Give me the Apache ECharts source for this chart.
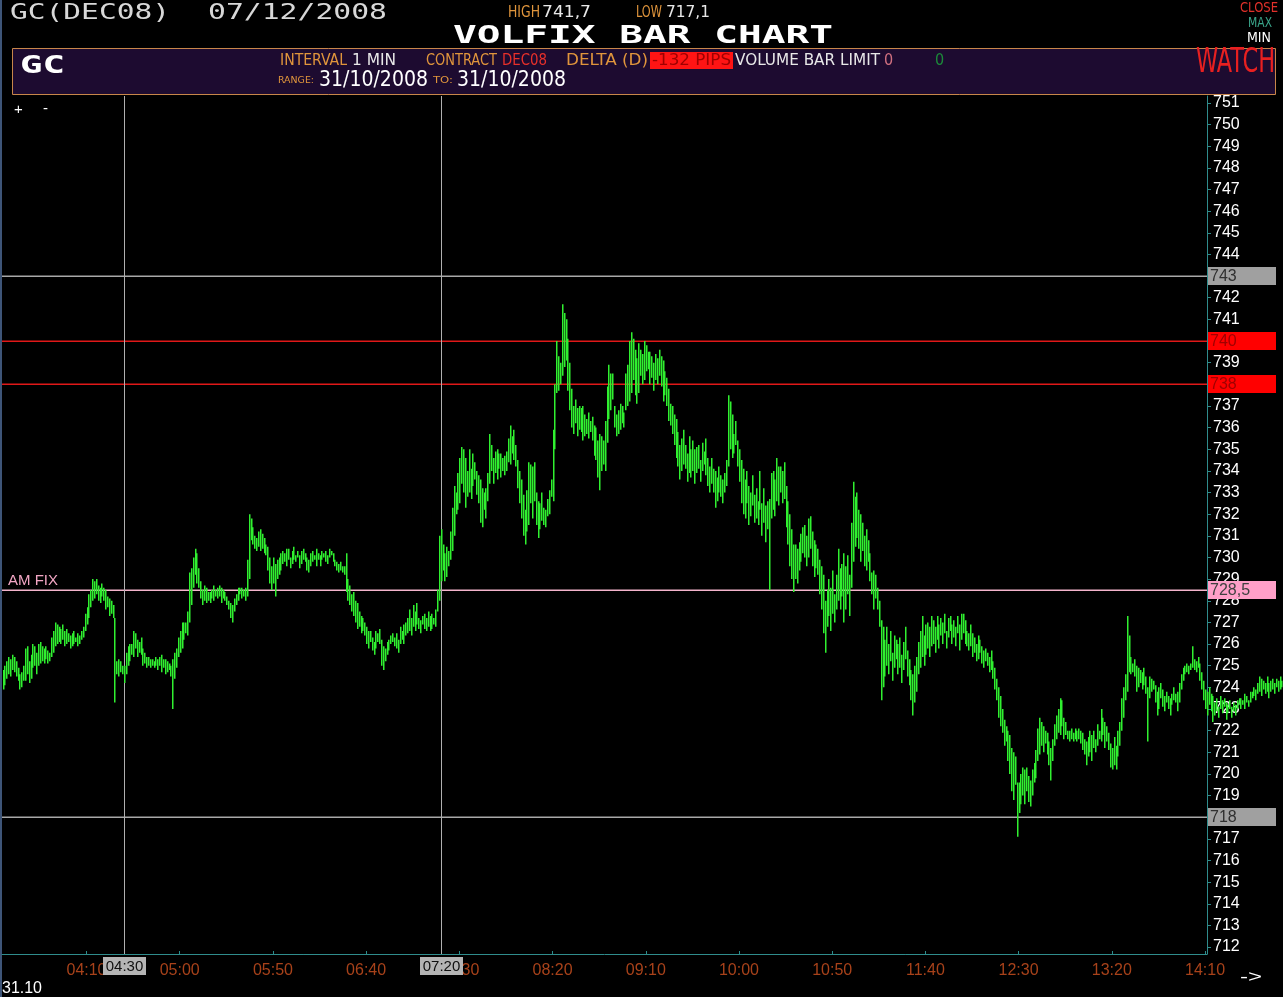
<!DOCTYPE html>
<html><head><meta charset="utf-8">
<script src="https://cdn.jsdelivr.net/npm/echarts@6/dist/echarts.min.js"></script>
<style>html,body{margin:0;padding:0;background:#000}#c{width:1283px;height:997px}</style>
</head><body><div id="c"></div>
<script>
// ---------------- DATA ----------------
const startTime = '03:25'; // first 1-minute bar
const lows = [
723.9,724.1,724.4,724.6,724.5,724.8,724.7,724.5,724.3,723.9,
724.0,724.3,724.3,724.6,724.2,724.4,724.9,725.0,724.6,725.0,
725.1,725.2,725.1,725.3,725.1,725.2,725.4,725.6,725.9,726.0,
726.1,726.0,726.2,725.9,726.0,726.1,725.8,725.9,726.0,726.1,
725.9,726.0,726.2,726.3,726.6,726.9,727.2,727.7,728.0,728.1,
728.3,728.0,727.9,728.2,728.0,727.6,727.7,727.3,727.4,727.2,
723.3,724.6,724.5,724.7,724.6,724.2,724.6,725.0,725.2,725.5,
725.4,725.8,725.4,725.6,725.5,725.0,725.1,724.9,725.0,724.9,
725.0,724.9,725.0,724.8,725.0,724.7,724.9,724.6,724.7,724.8,
724.5,723.0,724.4,724.9,725.4,725.6,725.8,726.2,726.5,726.4,
727.0,727.8,728.6,729.2,728.8,728.6,728.1,727.8,728.0,727.9,
728.0,727.9,728.1,728.0,728.2,728.1,728.2,727.9,728.1,728.0,
727.8,727.6,727.2,727.0,727.5,727.8,728.0,728.3,728.1,728.2,
728.0,728.2,729.0,730.8,730.6,730.4,730.3,730.5,730.3,730.4,
730.2,730.1,729.4,728.8,728.5,728.8,728.2,729.0,729.2,729.4,
729.7,729.8,729.6,729.9,729.5,729.7,729.9,729.8,730.0,729.5,
729.7,729.9,729.8,729.4,729.3,729.6,729.8,729.9,729.6,729.9,
729.6,729.9,730.0,729.8,729.7,730.0,730.1,729.8,729.6,729.4,
729.3,729.4,729.3,729.2,728.4,728.0,727.8,727.5,727.3,727.0,
726.7,726.8,726.5,726.6,726.4,726.0,725.8,726.1,725.7,725.5,
725.8,726.1,726.0,725.0,724.8,725.2,725.5,725.7,726.0,726.1,
725.9,725.8,725.6,726.0,726.2,726.0,726.4,726.5,726.6,726.4,
726.8,726.6,726.9,726.7,726.5,726.9,726.7,726.6,726.8,726.6,
726.7,726.9,726.8,727.5,728.0,728.9,729.4,728.9,729.1,729.6,
729.9,730.3,731.0,732.0,732.2,732.5,733.4,733.0,732.3,732.8,
733.0,732.7,733.3,733.6,732.9,732.5,731.6,731.4,732.2,731.8,
732.6,733.4,734.0,733.4,733.9,733.6,734.1,733.7,734.0,733.8,
734.0,734.4,734.3,734.8,734.5,734.2,733.2,732.5,731.8,731.0,
730.6,731.2,731.5,732.5,731.8,732.6,731.5,730.9,731.3,731.7,
731.5,731.4,731.9,732.0,732.8,732.6,735.0,737.6,737.7,738.0,
738.4,738.8,739.1,737.7,736.8,736.0,735.7,736.2,735.6,735.9,
735.8,735.4,735.6,735.7,735.5,735.8,735.4,734.7,734.5,733.7,
733.1,734.0,734.3,734.0,735.3,736.4,736.8,737.3,736.0,735.6,
735.7,735.9,736.2,736.0,736.8,737.0,737.2,737.6,738.2,737.5,
737.1,737.6,738.4,738.0,738.2,738.6,738.7,738.0,738.3,737.7,
738.2,738.0,738.4,737.9,737.2,737.5,737.0,736.3,736.1,735.7,
735.2,734.6,734.2,733.6,734.0,734.3,734.1,733.5,733.9,733.7,
734.0,733.4,733.9,734.1,733.5,734.0,734.3,733.8,733.3,733.0,
733.4,733.0,732.3,732.6,733.0,732.8,732.5,733.0,733.3,734.2,
735.0,734.6,734.8,735.2,734.2,733.5,732.5,732.0,731.8,732.5,
731.5,731.9,732.4,731.6,731.8,731.5,732.2,731.0,731.6,730.7,
731.3,728.5,731.8,732.2,731.9,732.6,732.4,733.0,732.5,732.7,
731.4,730.6,729.6,729.0,728.4,729.0,728.8,729.4,729.8,730.2,
730.0,729.6,730.0,730.4,729.6,729.1,729.5,729.2,728.3,727.6,
726.5,725.6,726.8,727.3,726.6,727.4,727.0,727.6,728.0,727.6,
728.2,727.0,727.6,728.3,727.3,728.6,729.8,730.5,730.9,730.4,
729.8,730.3,729.6,729.4,729.8,728.9,728.3,727.6,728.1,727.6,
726.8,723.4,724.0,724.5,725.0,724.6,725.2,724.3,724.9,725.3,
724.6,724.9,724.2,724.8,725.3,724.5,724.1,723.4,722.7,723.3,
723.8,724.6,724.9,725.4,725.0,725.5,725.8,725.4,725.9,726.0,
725.6,726.2,725.8,726.4,726.0,726.5,725.8,726.3,726.6,726.0,
726.3,725.9,726.5,725.7,726.2,726.5,726.0,725.9,725.7,725.9,
725.4,725.6,725.2,725.3,725.6,725.1,724.9,725.2,725.0,724.7,
724.8,724.4,723.9,723.4,722.6,722.2,721.9,721.3,721.5,720.6,
720.0,719.2,718.8,719.5,717.1,718.2,718.6,719.0,718.6,719.2,
718.7,718.5,719.0,719.6,719.8,720.6,720.9,721.3,721.0,721.4,
720.9,720.4,719.7,720.6,721.3,721.6,721.9,721.8,722.2,721.6,
721.8,721.6,721.5,721.6,721.5,721.6,721.5,721.6,721.4,721.1,
720.9,720.4,720.8,721.0,720.6,721.2,721.0,721.3,721.6,721.5,
721.8,721.2,721.5,721.1,720.3,720.2,720.4,720.2,720.8,721.3,
722.0,722.6,723.4,723.8,724.7,724.6,724.7,724.5,723.8,724.0,
724.2,723.9,724.1,723.7,721.5,723.5,723.8,723.9,723.3,722.7,
723.0,723.5,723.1,722.9,723.3,723.0,722.7,723.2,723.4,723.3,
722.9,723.3,723.9,724.3,724.6,724.7,724.6,724.8,724.9,724.8,
724.7,724.9,724.3,723.9,723.4,723.0,722.7,723.2,722.9,722.4,
722.7,722.9,722.6,723.0,722.8,723.1,722.5,722.8,723.0,722.6,
722.9,722.7,723.0,723.2,723.0,723.2,723.0,723.3,723.1,723.3,
723.5,723.6,723.4,723.7,723.8,723.6,723.9,723.7,723.8,723.5,
723.8,723.9,723.7,724.0,723.8,723.9,724.0,723.8
];
const highs = [
724.8,725.0,725.2,725.4,725.3,725.5,725.4,725.2,724.9,724.6,
724.7,725.0,725.8,725.9,725.2,725.5,726.0,725.9,725.6,726.0,
726.1,725.9,725.8,725.9,725.7,725.6,726.3,726.6,727.0,726.9,
726.8,726.7,726.9,726.6,726.7,726.5,726.4,726.5,726.6,726.3,
726.5,726.4,726.6,726.8,727.4,727.7,728.3,728.5,729.0,728.9,
729.0,728.7,728.6,728.8,728.6,728.5,728.2,728.1,728.0,727.8,
727.2,725.2,725.3,725.2,725.0,725.0,725.6,725.9,726.0,726.0,
726.6,726.5,726.2,726.1,726.3,725.8,725.6,725.4,725.4,725.3,
725.3,725.2,725.4,725.3,725.4,725.5,725.3,725.3,725.2,725.1,
725.0,725.3,725.6,725.8,726.3,726.6,727.0,727.0,727.0,727.5,
729.3,729.5,730.0,730.4,730.2,729.5,728.9,728.5,728.7,728.6,
728.4,728.4,728.5,728.7,728.5,728.6,728.7,728.6,728.5,728.4,
728.2,728.0,727.9,727.8,728.1,728.3,728.6,728.6,728.6,728.5,
728.6,729.9,732.0,731.8,731.4,731.0,730.9,731.2,731.3,731.1,
730.9,730.6,730.5,730.0,729.6,730.0,729.7,729.9,730.0,730.2,
730.3,730.2,730.4,730.4,730.0,730.3,730.5,730.1,730.3,730.1,
730.3,730.4,730.2,730.0,729.9,730.2,730.3,730.1,730.4,730.2,
730.1,730.3,730.2,730.3,730.1,730.4,730.3,730.2,729.9,729.8,
729.7,729.8,729.6,729.6,730.2,729.0,728.7,728.3,728.4,728.0,
727.9,727.5,727.3,727.2,727.0,726.8,726.6,726.6,726.3,726.1,
726.6,726.5,726.7,726.2,725.9,725.8,726.1,726.2,726.4,726.5,
726.3,726.5,726.2,726.8,726.6,726.9,727.0,727.2,727.6,727.2,
727.8,727.5,727.9,727.2,727.1,727.3,727.4,727.2,727.5,727.3,
727.4,727.2,727.6,728.5,731.0,731.3,730.6,730.2,730.5,730.3,
731.2,732.3,733.3,733.0,733.9,734.6,735.1,735.0,734.6,734.0,
735.0,734.1,734.8,734.4,734.0,733.8,733.6,733.2,733.0,733.2,
733.9,735.7,735.2,734.6,734.9,735.0,734.8,734.8,734.6,734.7,
734.9,735.5,736.1,735.6,735.9,735.2,734.5,734.0,733.6,732.9,
732.2,733.1,734.4,734.3,734.2,734.4,733.0,732.6,732.5,733.0,
732.3,732.2,732.7,733.1,733.6,735.9,738.0,740.0,739.3,739.0,
741.7,741.3,741.0,740.1,739.0,737.8,737.0,737.3,736.9,737.0,
736.9,737.0,736.6,736.4,736.7,736.3,736.5,736.1,736.0,735.4,
735.7,735.6,735.4,736.3,737.9,738.9,738.5,738.5,737.0,736.6,
736.8,737.1,737.0,736.7,738.5,738.9,740.0,740.4,740.1,739.6,
739.2,739.9,739.6,739.4,740.0,739.8,739.5,739.5,739.3,739.0,
739.4,739.2,739.6,739.3,739.1,738.6,738.3,737.8,737.1,737.0,
736.6,736.4,735.8,735.2,735.5,735.9,735.2,734.8,735.6,735.0,
735.4,735.0,735.1,735.2,734.5,735.3,734.9,735.5,734.6,734.2,
734.6,734.1,734.0,733.7,734.2,733.8,733.6,733.9,734.5,737.5,
737.2,736.6,735.7,736.3,735.4,735.0,734.5,734.1,733.6,734.0,
733.3,733.0,733.8,732.9,733.2,732.6,734.0,732.5,733.2,732.4,
732.6,732.7,733.9,734.0,733.6,734.6,734.2,734.2,734.0,734.4,
733.3,732.6,732.0,731.3,730.6,730.6,730.4,730.7,731.1,731.4,
731.5,731.0,731.8,731.9,731.2,730.8,730.6,730.4,729.9,729.6,
729.2,728.0,728.5,729.0,728.6,729.4,728.3,729.2,730.4,729.5,
729.7,730.2,729.6,730.1,729.2,731.6,733.5,732.8,733.0,732.2,
732.0,731.6,731.0,731.3,730.8,730.2,729.3,729.4,729.2,728.6,
728.0,727.1,726.8,726.2,726.8,726.0,726.6,725.6,726.4,726.2,
726.0,726.3,725.5,726.1,726.8,725.7,725.3,724.8,724.6,725.0,
725.4,726.1,726.6,727.3,726.4,726.9,727.0,726.8,727.3,727.1,
726.8,727.3,726.9,727.2,727.0,727.4,726.6,727.2,727.3,726.9,
727.1,726.8,727.3,726.9,727.4,727.4,727.1,726.6,726.5,726.9,
726.5,726.3,726.0,726.4,726.2,725.9,725.7,725.8,725.6,725.4,
725.7,725.2,724.9,724.4,724.0,723.6,723.0,722.5,722.2,722.0,
721.8,721.2,721.0,720.8,719.6,719.6,720.0,720.3,720.2,720.3,
719.9,719.7,720.2,720.5,721.1,722.1,722.6,722.4,722.2,722.0,
721.9,721.5,721.2,721.6,722.3,722.7,723.0,723.5,723.4,722.6,
722.4,722.0,722.0,722.1,721.9,722.1,722.0,722.1,722.0,721.9,
721.6,721.5,721.7,722.0,721.8,722.0,721.6,722.3,722.0,723.0,
722.6,722.4,722.2,721.9,721.4,721.2,721.7,721.3,722.0,722.4,
723.5,724.0,724.6,727.3,726.4,725.4,725.1,725.3,725.0,724.9,
724.8,724.7,724.9,724.5,724.0,724.5,724.4,724.3,724.1,723.8,
724.0,724.2,723.9,723.6,723.8,723.6,723.5,723.7,724.0,723.7,
723.8,724.2,724.6,724.9,725.0,725.1,725.0,725.1,725.9,725.3,
725.2,725.4,725.1,724.7,724.3,723.9,723.8,724.0,723.7,723.6,
723.3,723.5,723.1,723.6,723.4,723.5,723.3,723.2,723.4,723.1,
723.3,723.2,723.4,723.5,723.5,723.4,723.7,723.6,723.4,723.8,
723.8,724.0,723.9,724.2,724.5,724.4,724.3,724.2,724.5,724.2,
724.3,724.4,724.2,724.4,724.3,724.5,724.3,724.2
];
const xTickLabels = ['04:10','05:00','05:50','06:40','07:30','08:20','09:10','10:00','10:50','11:40','12:30','13:20','14:10'];
const yTickValues = [712,713,714,715,716,717,718,719,720,721,722,723,724,725,726,727,728,729,730,
  731,732,733,734,735,736,737,738,739,740,741,742,743,744,745,746,747,748,749,750,751];
const levelValues = [743, 740, 738, 728.5, 718];
const levelLabels = ['743', '740', '738', '728,5', '718'];
const amFixLabel = 'AM FIX';
const markerTimes = ['04:30', '07:20'];

// ---------------- HELPERS ----------------
function toMin(s){ const p = s.split(':').map(Number); return p[0]*60 + p[1]; }
function fmt(v){ const h = Math.floor(v/60), m = Math.round(v - h*60);
  return String(h).padStart(2,'0') + ':' + String(m).padStart(2,'0'); }
const t0 = toMin(startTime);
const bars = lows.map((l, i) => [t0 + i, l, highs[i]]);
const xTicks = xTickLabels.map(toMin);
const X_MIN = 204.67, X_MAX = 851.07, Y_MIN = 711.68, Y_MAX = 751.32;

const SANS = "'Liberation Sans', Arial, sans-serif";
const NARROW = "'Liberation Sans Narrow', 'DejaVu Sans Condensed', 'Liberation Sans', sans-serif";
const MONO = "'DejaVu Sans Mono', 'Liberation Mono', monospace";
const ORANGE = '#e0953c';
const BAR_GREEN = '#30f030';

const mctx = document.createElement('canvas').getContext('2d');
function txt(text, x, y, w, size, color, family, weight){
  weight = weight || 'normal';
  mctx.font = weight + ' ' + size + 'px ' + family;
  const mw = mctx.measureText(text).width || 1;
  return { type:'text', x:x, y:y, scaleX: w ? w / mw : 1, silent:true, z:10,
    style:{ text:text, fill:color, fontSize:size, fontFamily:family, fontWeight:weight,
      align:'left', verticalAlign:'middle' } };
}

const levelStyles = [
  {line:'#a8a8a8', bg:'#a0a0a0', fg:'#303030'},
  {line:'#e01818', bg:'#ff0000', fg:'#a00000'},
  {line:'#e01818', bg:'#ff0000', fg:'#a00000'},
  {line:'#f4b4cc', bg:'#ff9fc8', fg:'#404040'},
  {line:'#a8a8a8', bg:'#a0a0a0', fg:'#303030'}
];
const AMFIX_INDEX = 3;

const graphics = [
  { type:'rect', shape:{x:0, y:0, width:2, height:997}, style:{fill:'#3e5578'}, silent:true },
  txt('GC(DEC08)', 10, 14, 160, 21, '#d8d8d8', MONO),
  txt('07/12/2008', 208, 14, 179, 21, '#d8d8d8', MONO),
  txt('HIGH', 508, 13, 32, 15, ORANGE, NARROW),
  txt('741,7', 542, 13, 49, 15, '#e8e8e8', NARROW),
  txt('LOW', 636, 13, 26, 15, ORANGE, NARROW),
  txt('717,1', 666, 13, 44, 15, '#e8e8e8', NARROW),
  txt('VOLFIX BAR CHART', 453, 36, 380, 25, '#ffffff', MONO, 'bold'),
  txt('CLOSE', 1240, 8, 38, 14, '#e0302a', NARROW),
  txt('MAX', 1248, 23, 24, 14, '#3aa58a', NARROW),
  txt('MIN', 1247, 38, 24, 14, '#ffffff', NARROW),
  { type:'rect', shape:{x:12.5, y:48.5, width:1263, height:46}, style:{fill:'#1d0b30', stroke:'#c8864a', lineWidth:1}, silent:true },
  txt('GC', 20, 66, 45, 25, '#ffffff', MONO, 'bold'),
  txt('INTERVAL', 280, 61, 67, 16, ORANGE, NARROW),
  txt('1 MIN', 352, 61, 44, 16, '#e8e8e8', NARROW),
  txt('CONTRACT', 426, 61, 71, 16, ORANGE, NARROW),
  txt('DEC08', 502, 61, 45, 16, '#e8302a', NARROW),
  txt('DELTA (D)', 566, 61, 82, 16, ORANGE, NARROW),
  { type:'rect', shape:{x:650, y:52, width:83, height:17}, style:{fill:'#ff1414'}, silent:true, z:9 },
  txt('-132 PIPS', 652, 61, 79, 16, '#a00000', NARROW),
  txt('VOLUME BAR LIMIT', 735, 61, 145, 16, '#e8e8e8', NARROW),
  txt('0', 884, 61, 0, 16, '#d07080', NARROW),
  txt('0', 935, 61, 0, 16, '#1c8a3a', NARROW),
  txt('RANGE:', 278, 81, 36, 9, ORANGE, NARROW),
  txt('31/10/2008', 319, 81, 109, 21, '#ffffff', NARROW),
  txt('TO:', 433, 81, 20, 9, ORANGE, NARROW),
  txt('31/10/2008', 457, 81, 109, 21, '#ffffff', NARROW),
  txt('WATCH', 1196, 63, 79, 33, '#e82020', NARROW),
  txt('+', 14, 110, 0, 15, '#ffffff', SANS),
  txt('-', 43, 109, 0, 15, '#ffffff', SANS),
  txt('31.10', 2, 988, 40, 17, '#ffffff', SANS),
  txt('->', 1240, 978, 22, 16, '#ffffff', SANS)
];

// ---------------- CHART ----------------
const chart = echarts.init(document.getElementById('c'), null, {renderer:'canvas'});
chart.setOption({
  backgroundColor: '#000000',
  animation: false,
  textStyle: { fontFamily: SANS },
  grid: { left: 2, right: 76, top: 96, bottom: 43, containLabel: false, outerBoundsMode: 'none' },
  xAxis: {
    type: 'value', min: X_MIN, max: X_MAX,
    axisLine: { show: true, lineStyle: { color: '#2f8c8c', width: 1 } },
    axisTick: { show: true, inside: true, length: 3, customValues: xTicks, lineStyle: { color: '#2f8c8c' } },
    axisLabel: { show: true, customValues: xTicks, formatter: v => fmt(v), color: '#a8421a',
      fontSize: 16, fontFamily: SANS, margin: 9 },
    splitLine: { show: false }
  },
  yAxis: {
    type: 'value', position: 'right', min: Y_MIN, max: Y_MAX,
    axisLine: { show: true, lineStyle: { color: '#2f8c8c', width: 1 } },
    axisTick: { show: true, length: 4, customValues: yTickValues, lineStyle: { color: '#2f8c8c' } },
    axisLabel: { show: true, customValues: yTickValues, color: '#ffffff', fontSize: 16, fontFamily: SANS, margin: 6,
      padding: [3, 0, 0, 0] },
    splitLine: { show: false }
  },
  graphic: graphics,
  series: [
    { // horizontal level lines with their right-hand boxes
      type: 'custom', z: 1, clip: false, silent: true,
      encode: { x: 0, y: 1 },
      data: levelValues.map(v => [X_MIN, v]),
      renderItem: function (params, api) {
        const i = params.dataIndex;
        const st = levelStyles[i];
        const cs = params.coordSys;
        const yc = api.coord([X_MIN, api.value(1)])[1];
        const right = cs.x + cs.width;
        const children = [
          { type: 'rect', shape: { x: cs.x, y: Math.round(yc) - 0.4, width: cs.width, height: 1.3 }, style: { fill: st.line } },
          { type: 'rect', shape: { x: right + 1, y: Math.round(yc) - 9, width: 68, height: 18 }, style: { fill: st.bg } },
          { type: 'text', x: right + 3, y: Math.round(yc) + 1, style: { text: levelLabels[i], fill: st.fg, fontSize: 16,
              fontFamily: SANS, align: 'left', verticalAlign: 'middle' } }
        ];
        if (i === AMFIX_INDEX) {
          children.push({ type: 'text', x: cs.x + 6, y: yc - 9, style: { text: amFixLabel, fill: '#f2a6c4',
            fontSize: 15, fontFamily: SANS, align: 'left', verticalAlign: 'middle' } });
        }
        return { type: 'group', children: children };
      }
    },
    { // vertical time markers with bottom boxes
      type: 'custom', z: 1, clip: false, silent: true,
      encode: { x: 0, y: 1 },
      data: markerTimes.map(t => [toMin(t), Y_MIN]),
      renderItem: function (params, api) {
        const i = params.dataIndex;
        const cs = params.coordSys;
        const x = Math.round(api.coord([api.value(0), Y_MIN])[0]) + 0.5;
        const bottom = cs.y + cs.height;
        return { type: 'group', children: [
          { type: 'line', shape: { x1: x, y1: cs.y, x2: x, y2: bottom }, style: { stroke: '#b0b0b0', lineWidth: 1 } },
          { type: 'rect', shape: { x: x - 21.5, y: bottom + 3, width: 43, height: 18 }, style: { fill: '#b4b4b4' } },
          { type: 'text', x: x, y: bottom + 13, style: { text: markerTimes[i], fill: '#101010', fontSize: 15,
              fontFamily: SANS, align: 'center', verticalAlign: 'middle' } }
        ] };
      }
    },
    { // 1-minute high/low bars
      type: 'custom', z: 3, clip: false, silent: true,
      encode: { x: 0, y: [1, 2] },
      data: bars,
      renderItem: function (params, api) {
        const t = api.value(0);
        const a = api.coord([t, api.value(1)]);
        const b = api.coord([t, api.value(2)]);
        return { type: 'rect', shape: { x: Math.round(a[0]), y: b[1], width: 1.5, height: Math.max(1, a[1] - b[1]) },
          style: { fill: BAR_GREEN } };
      }
    }
  ]
});
</script>
</body></html>
